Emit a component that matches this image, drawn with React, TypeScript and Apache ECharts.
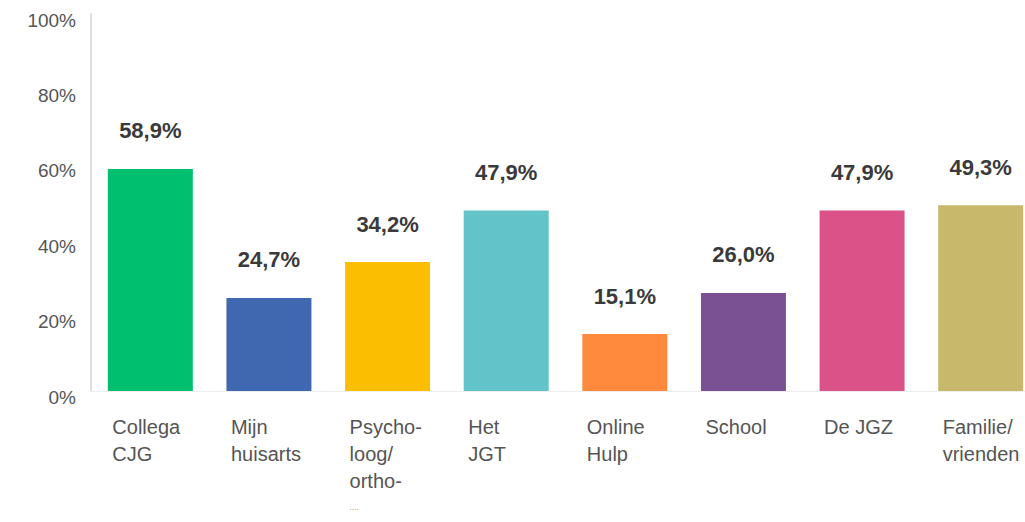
import React, { useEffect, useRef } from "react";
import * as echarts from "echarts";

const categories = [
  "Collega\nCJG",
  "Mijn\nhuisarts",
  "Psycho-\nloog/\northo-\n{s|....}",
  "Het\nJGT",
  "Online\nHulp",
  "School",
  "De JGZ",
  "Familie/\nvrienden",
];
const values = [58.9, 24.7, 34.2, 47.9, 15.1, 26.0, 47.9, 49.3];
const colors = ["#00bf6f", "#4068b0", "#fbbe00", "#62c4c8", "#ff8a3d", "#7a5294", "#db5288", "#c8b86c"];
const yTicks = [0, 20, 40, 60, 80, 100];

export default function App() {
  const ref = useRef<HTMLDivElement>(null);
  useEffect(() => {
    if (!ref.current) return;
    const chart = echarts.init(ref.current, null, { renderer: "svg" });
    chart.setOption({
      animation: false,
      textStyle: { fontFamily: "Liberation Sans" },
      grid: { left: 91, right: 10, top: 14, bottom: 131 },
      xAxis: {
        type: "category",
        data: categories,
        axisLine: { show: true, lineStyle: { color: "#eeeeee" } },
        axisTick: { show: false },
        axisLabel: {
          interval: 0,
          align: "left",
          padding: [0, 0, 0, -38],
          color: "#555555",
          fontSize: 20,
          lineHeight: 27,
          margin: 22,
          rich: { s: { fontSize: 8, color: "#777777", lineHeight: 27 } },
        },
      },
      yAxis: {
        type: "value",
        min: yTicks[0],
        max: yTicks[yTicks.length - 1],
        interval: 20,
        axisLine: { show: true, lineStyle: { color: "#dddddd", width: 2 } },
        axisTick: { show: false },
        splitLine: { show: false },
        axisLabel: {
          formatter: "{value}%",
          color: "#555555",
          fontSize: 19,
          margin: 15,
          verticalAlign: "top",
          lineHeight: 12,
        },
      },
      series: [
        {
          type: "bar",
          barWidth: 85,
          data: values.map((v, i) => ({ value: v, itemStyle: { color: colors[i] } })),
          label: {
            show: true,
            position: "top",
            distance: 27,
            formatter: (p: any) => p.value.toFixed(1).replace(".", ",") + "%",
            color: "#3a3a3a",
            fontSize: 22,
            fontWeight: "bold",
          },
        },
      ],
    });
    return () => chart.dispose();
  }, []);
  return (
    <div style={{ position: "absolute", left: 0, top: 0, width: 1025, height: 522, overflow: "hidden", background: "#fff" }}>
      <div ref={ref} style={{ width: 1050, height: 522 }} />
    </div>
  );
}
